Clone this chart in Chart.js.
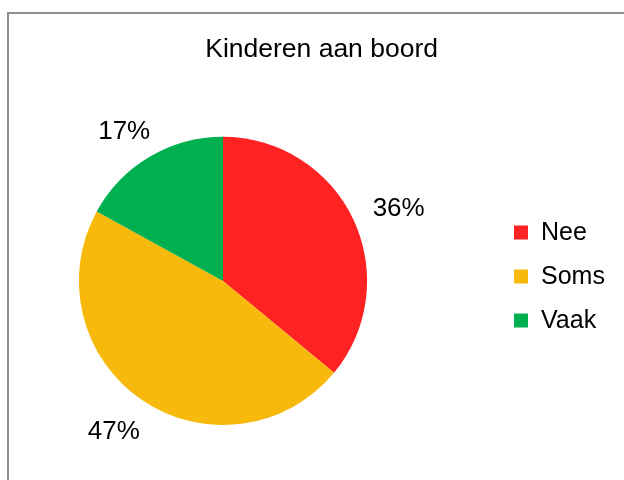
<!DOCTYPE html>
<html>
<head>
<meta charset="utf-8">
<title>Kinderen aan boord</title>
<script src="https://cdn.jsdelivr.net/npm/chart.js@4/dist/chart.umd.min.js"></script>
<style>
    html, body { margin: 0; padding: 0; background: #fff; overflow: hidden; }
    #wrap { position: relative; width: 624px; height: 480px; }
    #frame { position: absolute; left: 7px; top: 12px; width: 700px; height: 600px; border: 2px solid #8f8f8f; }
    #chart { position: absolute; left: 0; top: 0; }
</style>
</head>
<body>
<div id="wrap">
    <div id="frame"></div>
    <canvas id="chart" width="624" height="480"></canvas>
</div>
<script>
const categories = ['Nee', 'Soms', 'Vaak'];
const shares = [36, 47, 17];
const sliceColors = ['#ff2222', '#f6b90c', '#00af50'];
const chartTitle = 'Kinderen aan boord';

const fontFamily = '"Liberation Sans", Arial, sans-serif';
Chart.defaults.font.family = fontFamily;
Chart.defaults.color = '#000';

// percentage labels just outside each slice
const pctLabels = {
    id: 'pctLabels',
    afterDatasetsDraw(chart) {
        const ctx = chart.ctx;
        const meta = chart.getDatasetMeta(0);
        ctx.save();
        ctx.font = '26px ' + fontFamily;
        ctx.fillStyle = '#000';
        ctx.textAlign = 'center';
        ctx.textBaseline = 'middle';
        meta.data.forEach((arc, i) => {
            const mid = (arc.startAngle + arc.endAngle) / 2;
            const r = arc.outerRadius + 24;
            const ax = arc.x + Math.cos(mid) * r;
            const ay = arc.y + Math.sin(mid) * r;
            const text = shares[i] + '%';
            const w = ctx.measureText(text).width;
            ctx.fillText(text, ax + Math.cos(mid) * w / 2, ay + Math.sin(mid) * 10 + 4);
        });
        ctx.restore();
    }
};

// legend on the right, built from the chart data
const sideLegend = {
    id: 'sideLegend',
    afterDraw(chart) {
        const ctx = chart.ctx;
        const ds = chart.data.datasets[0];
        ctx.save();
        ctx.font = '25px ' + fontFamily;
        ctx.textAlign = 'left';
        ctx.textBaseline = 'middle';
        chart.data.labels.forEach((label, i) => {
            const y = 232.5 + i * 44;
            ctx.fillStyle = ds.backgroundColor[i];
            ctx.fillRect(514, y - 7, 14, 14);
            ctx.fillStyle = '#000';
            ctx.fillText(label, 541, y + 1);
        });
        ctx.restore();
    }
};

new Chart(document.getElementById('chart').getContext('2d'), {
    type: 'pie',
    data: {
        labels: categories,
        datasets: [{
            data: shares,
            backgroundColor: sliceColors,
            borderWidth: 0
        }]
    },
    options: {
        responsive: false,
        animation: false,
        layout: {
            padding: { left: 8, right: 186, top: 0, bottom: 55 }
        },
        plugins: {
            legend: { display: false },
            tooltip: { enabled: false },
            title: {
                display: true,
                text: chartTitle,
                align: 'end',
                color: '#000',
                font: { size: 26.5, weight: 'normal' },
                padding: { top: 34, bottom: 71 }
            }
        }
    },
    plugins: [pctLabels, sideLegend]
});
</script>
</body>
</html>
